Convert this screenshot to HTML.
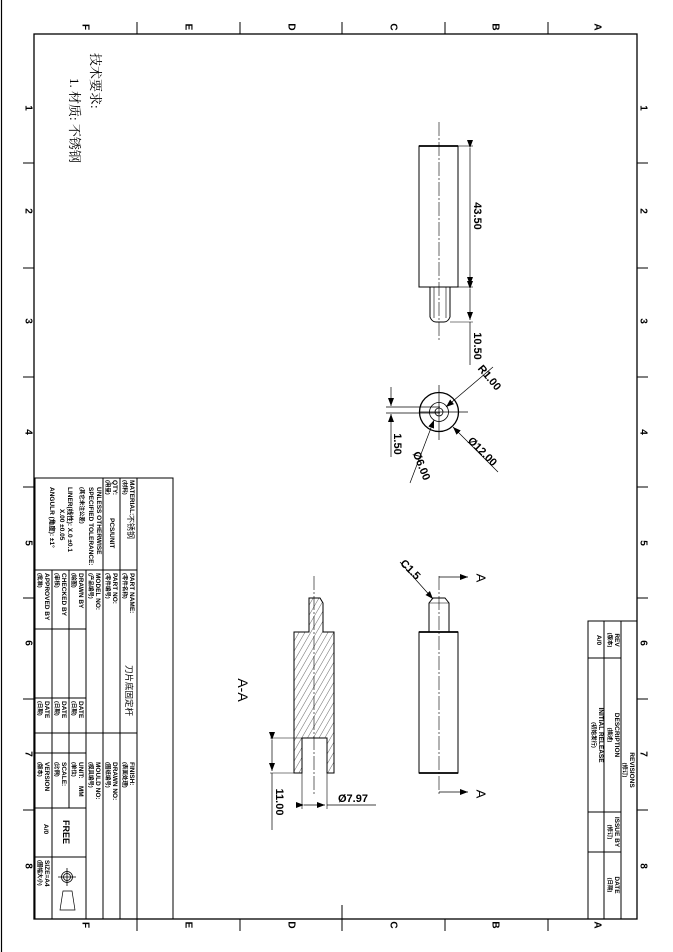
<!DOCTYPE html>
<html><head><meta charset="utf-8"><style>
html,body{margin:0;padding:0;background:#fff}
svg{display:block}
text{font-family:"Liberation Sans","Noto Sans CJK SC",sans-serif;fill:#000}
.b{font-weight:bold;font-size:6.5px}
.c{font-size:5.5px}
.L{font-weight:bold;font-size:10px}
.d{font-weight:bold;font-size:11px}
</style></head><body>
<svg width="673" height="952" viewBox="0 0 673 952" xmlns="http://www.w3.org/2000/svg">
<defs>
<pattern id="h" patternUnits="userSpaceOnUse" width="5" height="5" patternTransform="rotate(30)"><line x1="0" y1="0" x2="0" y2="5" stroke="#000" stroke-width="0.6"/></pattern>
<marker id="ar" markerWidth="8" markerHeight="6" refX="8" refY="3" orient="auto" markerUnits="userSpaceOnUse"><path d="M0,0 L8,3 L0,6 z" fill="#000"/></marker>
</defs>
<line x1="1.5" y1="0" x2="1.5" y2="952" stroke="#000" stroke-width="1.2"/>
<rect x="34" y="34" width="603" height="885" fill="none" stroke="#000" stroke-width="1.3"/>
<g stroke="#000" stroke-width="1">
<line x1="137" y1="22" x2="137" y2="34"/><line x1="240" y1="22" x2="240" y2="34"/><line x1="342" y1="22" x2="342" y2="34"/><line x1="445" y1="22" x2="445" y2="34"/><line x1="548" y1="22" x2="548" y2="34"/>
<line x1="137" y1="919" x2="137" y2="931"/><line x1="240" y1="919" x2="240" y2="931"/><line x1="342" y1="919" x2="342" y2="931"/><line x1="445" y1="919" x2="445" y2="931"/><line x1="548" y1="919" x2="548" y2="931"/>
<line x1="342" y1="905" x2="342" y2="919"/>
<line x1="23" y1="163" x2="34" y2="163"/><line x1="23" y1="268" x2="34" y2="268"/><line x1="23" y1="377" x2="34" y2="377"/><line x1="23" y1="487" x2="34" y2="487"/><line x1="23" y1="598" x2="34" y2="598"/><line x1="23" y1="699" x2="34" y2="699"/><line x1="23" y1="810" x2="34" y2="810"/>
<line x1="637" y1="163" x2="648" y2="163"/><line x1="637" y1="268" x2="648" y2="268"/><line x1="637" y1="377" x2="648" y2="377"/><line x1="637" y1="487" x2="648" y2="487"/><line x1="637" y1="598" x2="648" y2="598"/><line x1="637" y1="699" x2="648" y2="699"/><line x1="637" y1="810" x2="648" y2="810"/>
</g>
<g class="L" text-anchor="middle" dominant-baseline="central">
<text transform="translate(85,27) rotate(90)">F</text><text transform="translate(188,27) rotate(90)">E</text><text transform="translate(291,27) rotate(90)">D</text><text transform="translate(393,27) rotate(90)">C</text><text transform="translate(495,27) rotate(90)">B</text><text transform="translate(597,27) rotate(90)">A</text>
<text transform="translate(85,925) rotate(90)">F</text><text transform="translate(188,925) rotate(90)">E</text><text transform="translate(291,925) rotate(90)">D</text><text transform="translate(393,925) rotate(90)">C</text><text transform="translate(495,925) rotate(90)">B</text><text transform="translate(597,925) rotate(90)">A</text>
<text transform="translate(28,108) rotate(90)">1</text><text transform="translate(28,211) rotate(90)">2</text><text transform="translate(28,321) rotate(90)">3</text><text transform="translate(28,432) rotate(90)">4</text><text transform="translate(28,543) rotate(90)">5</text><text transform="translate(28,643) rotate(90)">6</text><text transform="translate(28,754) rotate(90)">7</text><text transform="translate(28,866) rotate(90)">8</text>
<text transform="translate(643,108) rotate(90)">1</text><text transform="translate(643,211) rotate(90)">2</text><text transform="translate(643,321) rotate(90)">3</text><text transform="translate(643,432) rotate(90)">4</text><text transform="translate(643,543) rotate(90)">5</text><text transform="translate(643,643) rotate(90)">6</text><text transform="translate(643,754) rotate(90)">7</text><text transform="translate(643,866) rotate(90)">8</text>
</g>
<text transform="translate(91,53) rotate(90)" style="font-family:'Liberation Serif','Noto Serif CJK SC',serif;font-size:13px">技术要求:</text>
<text transform="translate(70,78) rotate(90)" style="font-family:'Liberation Serif','Noto Serif CJK SC',serif;font-size:13px">1. 材质: 不锈钢</text>

<!-- title block -->
<g stroke="#000" stroke-width="1" fill="none">
<rect x="35" y="478" width="138" height="441"/>
<line x1="137" y1="478" x2="137" y2="919"/>
<line x1="120" y1="478" x2="120" y2="919"/>
<line x1="103" y1="478" x2="103" y2="919"/>
<line x1="86" y1="570" x2="86" y2="919"/>
<line x1="69" y1="570" x2="69" y2="808"/>
<line x1="52" y1="570" x2="52" y2="919"/>
<line x1="35" y1="570" x2="137" y2="570"/>
<line x1="35" y1="629" x2="86" y2="629"/>
<line x1="35" y1="698" x2="86" y2="698"/>
<line x1="86" y1="733" x2="137" y2="733"/>
<line x1="35" y1="733" x2="86" y2="733"/>
<line x1="35" y1="753" x2="86" y2="753"/>
<line x1="35" y1="808" x2="86" y2="808"/>
<line x1="35" y1="857" x2="86" y2="857"/>
<circle cx="67" cy="877" r="5.5" stroke-width="0.8"/><circle cx="67" cy="877" r="3.5" stroke-width="0.8"/>
<line x1="58" y1="877" x2="76" y2="877" stroke-width="0.8"/><line x1="67" y1="868" x2="67" y2="886" stroke-width="0.8"/>
<path d="M63,891 L72,891 L75,910 L60,910 Z" stroke-width="0.7"/>
</g>
<g class="b">
<text transform="translate(130,480) rotate(90)">MATERIAL:</text><text class="c" transform="translate(123,480) rotate(90)">(材料)</text>
<text transform="translate(128,515) rotate(90)" style="font-size:8px;font-weight:normal">不锈钢</text>
<text transform="translate(113,480) rotate(90)">QTY:</text><text class="c" transform="translate(106,480) rotate(90)">(用量)</text>
<text transform="translate(110,518) rotate(90)">PCS/UNIT</text>
<text transform="translate(97,487) rotate(90)">UNLESS OTHERWISE</text>
<text transform="translate(89,487) rotate(90)">SPECIFIED TOLERANCE:</text>
<text class="c" transform="translate(80,487) rotate(90)">(其它未注公差)</text>
<text transform="translate(68,487) rotate(90)">LINER(线性): X.0 ±0.1</text>
<text transform="translate(60,509) rotate(90)">X.00 ±0.05</text>
<text transform="translate(50,487) rotate(90)">ANGULR (角度): ±1°</text>
<text transform="translate(130,573) rotate(90)">PART NAME:</text><text class="c" transform="translate(123,573) rotate(90)">(零件名称)</text>
<text transform="translate(113,573) rotate(90)">PART NO:</text><text class="c" transform="translate(106,573) rotate(90)">(零件编号)</text>
<text transform="translate(96,573) rotate(90)">MODEL NO:</text><text class="c" transform="translate(89,573) rotate(90)">(产品编号)</text>
<text transform="translate(79,573) rotate(90)">DRAWN BY</text><text class="c" transform="translate(72,573) rotate(90)">(绘图)</text>
<text transform="translate(62,573) rotate(90)">CHECKED BY</text><text class="c" transform="translate(55,573) rotate(90)">(审核)</text>
<text transform="translate(45,573) rotate(90)">APPROVED BY</text><text class="c" transform="translate(38,573) rotate(90)">(批准)</text>
<text transform="translate(126,665) rotate(90)" style="font-size:8.5px;font-weight:normal">刀片底固定杆</text>
<text transform="translate(79,701) rotate(90)">DATE</text><text class="c" transform="translate(72,701) rotate(90)">(日期)</text>
<text transform="translate(62,701) rotate(90)">DATE</text><text class="c" transform="translate(55,701) rotate(90)">(日期)</text>
<text transform="translate(45,701) rotate(90)">DATE</text><text class="c" transform="translate(38,701) rotate(90)">(日期)</text>
<text transform="translate(130,762) rotate(90)">FINISH:</text><text class="c" transform="translate(123,762) rotate(90)">(表面处理)</text>
<text transform="translate(113,762) rotate(90)">DRAWN NO:</text><text class="c" transform="translate(106,762) rotate(90)">(图纸编号)</text>
<text transform="translate(96,762) rotate(90)">MOULD NO:</text><text class="c" transform="translate(89,762) rotate(90)">(模具编号)</text>
<text transform="translate(79,762) rotate(90)">UNIT:&#160;&#160;&#160;&#160;MM</text><text class="c" transform="translate(72,762) rotate(90)">(单位)</text>
<text transform="translate(62,762) rotate(90)">SCALE:</text><text class="c" transform="translate(55,762) rotate(90)">(比例)</text>
<text transform="translate(45,762) rotate(90)">VERSION</text><text class="c" transform="translate(38,762) rotate(90)">(版本)</text>
<text transform="translate(63,820) rotate(90)" style="font-size:9px">FREE</text>
<text transform="translate(44,824) rotate(90)">A/0</text>
<text transform="translate(45,860) rotate(90)">SIZE=A4</text><text class="c" transform="translate(38,860) rotate(90)">(图幅大小)</text>
</g>

<!-- revisions -->
<g stroke="#000" stroke-width="1" fill="none">
<rect x="588" y="621" width="49" height="298"/>
<line x1="604" y1="621" x2="604" y2="919"/>
<line x1="621" y1="621" x2="621" y2="919"/>
<line x1="588" y1="658" x2="621" y2="658"/>
<line x1="588" y1="812" x2="621" y2="812"/>
<line x1="588" y1="852" x2="621" y2="852"/>
</g>
<g class="b" text-anchor="middle">
<text transform="translate(630,770) rotate(90)">REVISIONS</text><text class="c" transform="translate(623,770) rotate(90)">(修订)</text>
<text transform="translate(615,640) rotate(90)">REV</text><text class="c" transform="translate(608,640) rotate(90)">(版本)</text>
<text transform="translate(597,640) rotate(90)">A/0</text>
<text transform="translate(615,735) rotate(90)">DESCRIPTION</text><text class="c" transform="translate(608,735) rotate(90)">(描述)</text>
<text transform="translate(599,735) rotate(90)">INITIAL RELEASE</text><text class="c" transform="translate(592,735) rotate(90)">(初始发行)</text>
<text transform="translate(615,832) rotate(90)">ISSUE BY</text><text class="c" transform="translate(608,832) rotate(90)">(修订)</text>
<text transform="translate(615,885) rotate(90)">DATE</text><text class="c" transform="translate(608,885) rotate(90)">(日期)</text>
</g>

<!-- top view -->
<g stroke="#000" fill="none" stroke-width="1">
<rect x="419" y="146" width="39" height="141"/>
<line x1="419" y1="146" x2="458" y2="146" stroke-width="1.8"/>
<path d="M430,287 L430,317 Q432,322 436,322 L444,322 Q448,322 450,317 L450,287"/>
<line x1="434" y1="287" x2="434" y2="318" stroke-width="0.6"/><line x1="446" y1="287" x2="446" y2="318" stroke-width="0.6"/>
<line x1="439" y1="122" x2="439" y2="342" stroke-dasharray="14,2,2,2" stroke-width="0.6"/>
<line x1="458" y1="146" x2="473" y2="146" stroke-width="0.6"/><line x1="458" y1="287" x2="473" y2="287" stroke-width="0.6"/><line x1="450" y1="322" x2="473" y2="322" stroke-width="0.6"/>
<line x1="470" y1="148" x2="470" y2="285" stroke-width="0.7" marker-start="url(#ar)" marker-end="url(#ar)"/>
<line x1="470" y1="289" x2="470" y2="320" stroke-width="0.7" marker-start="url(#ar)" marker-end="url(#ar)"/>
<line x1="470" y1="322" x2="470" y2="365" stroke-width="0.7"/>
</g>
<g class="d" text-anchor="middle">
<text transform="translate(474,216) rotate(90)">43.50</text>
<text transform="translate(474,346) rotate(90)">10.50</text>
</g>

<!-- end view -->
<g stroke="#000" fill="none">
<circle cx="439" cy="412" r="19.5" stroke-width="1.3"/>
<circle cx="439" cy="412" r="9.5" stroke-width="0.8"/>
<circle cx="439" cy="412" r="4" stroke-width="0.8"/>
<line x1="420" y1="412" x2="468" y2="412" stroke-width="0.7"/>
<line x1="439" y1="385" x2="439" y2="440" stroke-width="0.7"/>
<line x1="386" y1="407" x2="440" y2="407" stroke-width="0.7"/>
<line x1="386" y1="413" x2="440" y2="413" stroke-width="0.7"/>
<line x1="391" y1="387" x2="391" y2="406" stroke-width="0.7" marker-end="url(#ar)"/>
<line x1="391" y1="457" x2="391" y2="414" stroke-width="0.7" marker-end="url(#ar)"/>
<line x1="493" y1="367" x2="446" y2="407" stroke-width="0.7" marker-end="url(#ar)"/>
<line x1="498" y1="472" x2="453" y2="427" stroke-width="0.7" marker-end="url(#ar)"/>
<line x1="410" y1="483" x2="434" y2="420" stroke-width="0.7" marker-end="url(#ar)"/>
</g>
<g class="d" text-anchor="middle" dominant-baseline="central">
<text transform="translate(397,444) rotate(90)">1.50</text>
<text transform="translate(489,378) rotate(50)">R1.00</text>
<text transform="translate(482,452) rotate(45)">Ø12.00</text>
<text transform="translate(421,466) rotate(68)">Ø6.00</text>
</g>

<!-- front view -->
<g stroke="#000" fill="none" stroke-width="1">
<rect x="419" y="632" width="39" height="141"/>
<line x1="419" y1="632" x2="458" y2="632" stroke-width="1.8"/>
<line x1="419" y1="773" x2="458" y2="773" stroke-width="1.8"/>
<path d="M429,632 L429,603 L433,598 L445,598 L449,603 L449,632"/>
<line x1="429" y1="603" x2="449" y2="603" stroke-width="0.6"/>
<line x1="439" y1="576" x2="439" y2="795" stroke-dasharray="14,2,2,2" stroke-width="0.6"/>
<path d="M439,577 L468,577" stroke-width="0.8" marker-end="url(#ar)"/>
<path d="M439,792 L468,792" stroke-width="0.8" marker-end="url(#ar)"/>
<line x1="400" y1="562" x2="433" y2="599" stroke-width="0.7" marker-end="url(#ar)"/>
</g>
<g class="d" text-anchor="middle" dominant-baseline="central">
<text transform="translate(481,578) rotate(90)" style="font-size:13px;font-weight:normal">A</text>
<text transform="translate(481,794) rotate(90)" style="font-size:13px;font-weight:normal">A</text>
<text transform="translate(410,570) rotate(45)">C1.5</text>
<text transform="translate(243,690) rotate(90)" style="font-size:14px;font-weight:normal">A-A</text>
</g>

<!-- section view -->
<path d="M294,632 L309,632 L309,598 L320,598 L323,603 L323,632 L334,632 L334,773 L327,773 L327,738 L302,738 L302,773 L294,773 Z" fill="url(#h)" stroke="#000" stroke-width="1"/>
<g stroke="#000" fill="none">
<line x1="314" y1="576" x2="314" y2="795" stroke-dasharray="14,2,2,2" stroke-width="0.6"/>
<line x1="270" y1="738" x2="302" y2="738" stroke-width="0.6"/>
<line x1="270" y1="773" x2="294" y2="773" stroke-width="0.6"/>
<line x1="272" y1="740" x2="272" y2="771" stroke-width="0.7" marker-start="url(#ar)" marker-end="url(#ar)"/>
<line x1="272" y1="773" x2="272" y2="830" stroke-width="0.7"/>
<line x1="302" y1="773" x2="302" y2="809" stroke-width="0.6"/>
<line x1="327" y1="773" x2="327" y2="809" stroke-width="0.6"/>
<line x1="304" y1="805" x2="325" y2="805" stroke-width="0.7" marker-start="url(#ar)" marker-end="url(#ar)"/>
<line x1="327" y1="805" x2="376" y2="805" stroke-width="0.7"/>
</g>
<text class="d" transform="translate(276,802) rotate(90)" text-anchor="middle">11.00</text>
<text class="d" x="338" y="802">Ø7.97</text>
</svg>
</body></html>
